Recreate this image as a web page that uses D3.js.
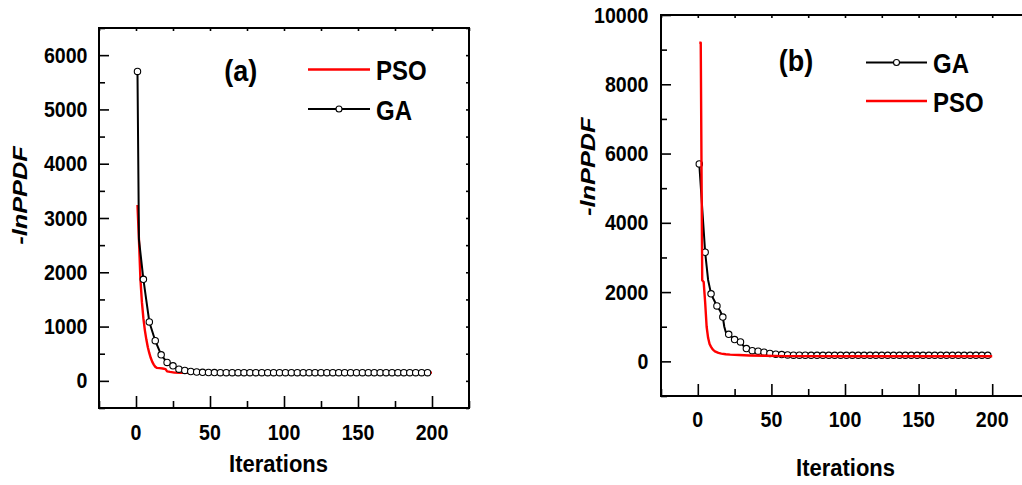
<!DOCTYPE html>
<html><head><meta charset="utf-8">
<script src="https://cdn.jsdelivr.net/npm/d3@7"></script>
<style>
body{margin:0;background:#fff}
text{font-family:"Liberation Sans",Arial,sans-serif;font-weight:bold;fill:#000}
</style>
</head><body>
<svg id="c" width="1022" height="485"></svg>
<script>
// ---------- DATA ----------
const xTicks = [0, 50, 100, 150, 200];
const xMinorTicks = [-25, 25, 75, 125, 175, 225];
const yTicksA = [0, 1000, 2000, 3000, 4000, 5000, 6000];
const yMinorA = [-500, 500, 1500, 2500, 3500, 4500, 5500, 6500];
const yTicksB = [0, 2000, 4000, 6000, 8000, 10000];
const yMinorB = [-1000, 1000, 3000, 5000, 7000, 9000];

// Panel (a)
const psoA_iter = [1, 2, 3, 4, 5, 6, 7, 8, 9, 10, 11, 12, 13, 14, 16, 18, 20, 21, 23, 26, 30, 40, 60, 100, 150, 200];
const psoA_val  = [3240, 2600, 1870, 1450, 1150, 930, 760, 620, 510, 420, 350, 300, 260, 240, 235, 228, 215, 175, 165, 152, 148, 148, 150, 150, 150, 152];
const gaA_iter = [1, 2, 5, 9, 13, 17, 21, 25, 29, 33, 37, 41, 45, 49, 53, 57, 61, 65, 69, 73, 77, 81, 85, 89, 93, 97, 101, 105, 109, 113, 117, 121, 125, 129, 133, 137, 141, 145, 149, 153, 157, 161, 165, 169, 173, 177, 181, 185, 189, 193, 197];
const gaA_val  = [5700, 2600, 1870, 1085, 740, 480, 340, 277, 216, 192, 172, 163, 157, 154, 152, 151, 150, 150, 150, 150, 150, 150, 150, 150, 150, 150, 150, 150, 150, 150, 150, 150, 150, 150, 150, 150, 150, 150, 150, 150, 150, 150, 150, 150, 150, 150, 150, 150, 150, 150, 150];

// Panel (b)
const gaB_iter = [1, 5, 6, 7, 8, 9, 11, 13, 15, 17, 18, 19, 21, 25, 29, 31, 33, 37, 41, 45, 49, 53, 57, 61, 65, 69, 73, 77, 81, 85, 89, 93, 97, 101, 105, 109, 113, 117, 121, 125, 129, 133, 137, 141, 145, 149, 153, 157, 161, 165, 169, 173, 177, 181, 185, 189, 193, 197];
const gaB_val  = [5700, 3150, 2750, 2350, 2150, 1950, 1770, 1600, 1470, 1280, 1000, 850, 780, 630, 560, 450, 370, 310, 295, 265, 230, 205, 195, 185, 180, 178, 176, 175, 175, 175, 175, 175, 175, 175, 175, 175, 175, 175, 175, 175, 175, 175, 175, 175, 175, 175, 175, 175, 175, 175, 175, 175, 175, 175, 175, 175, 175, 175];
const psoB_iter = [1, 2, 3, 4, 5, 6, 7, 8, 9, 10, 11, 12, 14, 16, 19, 22, 28, 35, 45, 60, 100, 200];
const psoB_val  = [9200, 9200, 2340, 2290, 1700, 1000, 680, 500, 420, 350, 310, 280, 245, 225, 205, 195, 182, 170, 160, 152, 148, 148];

const xTitle = "Iterations";
const yTitle = "-lnPPDF";

// ---------- DRAW ----------
const svg = d3.select("#c");

function txt(g, s, x, y, size, anchor, sy) {
  return g.append("text")
    .attr("transform", `translate(${x},${y}) scale(1,${sy})`)
    .attr("font-size", size).attr("text-anchor", anchor).text(s);
}

function panel(p) {
  const g = svg.append("g");
  const x = d3.scaleLinear().domain([-25, 225]).range(p.xr);
  const y = d3.scaleLinear().domain(p.yd).range(p.yr);

  const styleAx = s => { s.select(".domain").remove(); s.selectAll("text").remove();
    s.selectAll("line").attr("stroke", "#000").attr("stroke-width", 1.6); };

  g.append("g").attr("transform", `translate(0,${p.yr[0]})`)
    .call(d3.axisBottom(x).tickValues(xTicks).tickSizeInner(-12).tickSizeOuter(0)).call(styleAx);
  g.append("g").attr("transform", `translate(0,${p.yr[0]})`)
    .call(d3.axisBottom(x).tickValues(xMinorTicks).tickSizeInner(-7).tickSizeOuter(0)).call(styleAx);
  g.append("g").attr("transform", `translate(0,${p.yr[1]})`)
    .call(d3.axisTop(x).tickValues(xTicks.concat(xMinorTicks)).tickSizeInner(-3).tickSizeOuter(0)).call(styleAx);
  g.append("g").attr("transform", `translate(${p.xr[0]},0)`)
    .call(d3.axisLeft(y).tickValues(p.yMajor).tickSizeInner(-10).tickSizeOuter(0)).call(styleAx);
  g.append("g").attr("transform", `translate(${p.xr[0]},0)`)
    .call(d3.axisLeft(y).tickValues(p.yMinor).tickSizeInner(-6).tickSizeOuter(0)).call(styleAx);
  g.append("g").attr("transform", `translate(${p.xr[1]},0)`)
    .call(d3.axisRight(y).tickValues(p.yMajor.concat(p.yMinor)).tickSizeInner(-3).tickSizeOuter(0)).call(styleAx);

  g.append("rect").attr("x", p.xr[0]).attr("y", p.yr[1])
    .attr("width", p.xr[1] - p.xr[0]).attr("height", p.yr[0] - p.yr[1])
    .attr("fill", "none").attr("stroke", "#000").attr("stroke-width", 2);

  // tick labels
  p.yMajor.forEach(v => txt(g, String(v), p.yLabR, y(v) + 7.5, 19.6, "end", 1.08));
  xTicks.forEach(v => txt(g, String(v), x(v), p.xLabBase, 19.6, "middle", 1.08));

  // titles
  txt(g, xTitle, p.xTitle[0], p.xTitle[1], 22, "middle", 1.08);
  g.append("text").attr("transform", `translate(${p.yTitle[0]},${p.yTitle[1]}) rotate(-90) scale(1.3,1)`)
    .attr("font-size", 19.5).attr("font-style", "italic").attr("text-anchor", "middle").text(yTitle);
  txt(g, p.tag, p.tagPos[0], p.tagPos[1], 27, "middle", 1.1);

  const line = d3.line().x(d => x(d[0])).y(d => y(d[1]));
  const pso = psoData => g.append("path").datum(psoData).attr("d", line)
      .attr("fill", "none").attr("stroke", "#ff0000").attr("stroke-width", 2.4).attr("stroke-linejoin", "round");
  const ga = gaData => {
    g.append("path").datum(gaData).attr("d", line)
      .attr("fill", "none").attr("stroke", "#000").attr("stroke-width", 2).attr("stroke-linejoin", "round");
    g.selectAll(null).data(gaData.filter(d => (d[0] - 1) % 4 === 0)).join("circle")
      .attr("cx", d => x(d[0])).attr("cy", d => y(d[1])).attr("r", 3.2)
      .attr("fill", "#fff").attr("stroke", "#000").attr("stroke-width", 1.1);
  };
  const psoData = p.psoI.map((v, i) => [v, p.psoV[i]]);
  const gaData = p.gaI.map((v, i) => [v, p.gaV[i]]);
  if (p.psoOnTop) { ga(gaData); pso(psoData); } else { pso(psoData); ga(gaData); }

  // legend
  p.legend.forEach(L => {
    if (L.name === "PSO") {
      g.append("line").attr("x1", L.x1).attr("x2", L.x2).attr("y1", L.y).attr("y2", L.y)
        .attr("stroke", "#ff0000").attr("stroke-width", 2.4);
    } else {
      g.append("line").attr("x1", L.x1).attr("x2", L.x2).attr("y1", L.y).attr("y2", L.y)
        .attr("stroke", "#000").attr("stroke-width", 2);
      g.append("circle").attr("cx", (L.x1 + L.x2) / 2).attr("cy", L.y).attr("r", 3)
        .attr("fill", "#fff").attr("stroke", "#000").attr("stroke-width", 1.1);
    }
    txt(g, L.name, L.tx, L.y + 10.5, 24, "start", 1.15);
  });
}

panel({
  xr: [99, 469], yd: [-500, 6500], yr: [408, 28],
  yMajor: yTicksA, yMinor: yMinorA, yLabR: 87.5, xLabBase: 439.5,
  xTitle: [278.5, 471.5], yTitle: [26.5, 195.5], tag: "(a)", tagPos: [240.7, 80.5],
  psoI: psoA_iter, psoV: psoA_val, gaI: gaA_iter, gaV: gaA_val, psoOnTop: false,
  legend: [{name: "PSO", x1: 308, x2: 370, y: 69.5, tx: 376},
           {name: "GA", x1: 308, x2: 370, y: 109, tx: 376}]
});
panel({
  xr: [661, 1029], yd: [-1000, 10000], yr: [396, 15],
  yMajor: yTicksB, yMinor: yMinorB, yLabR: 648.5, xLabBase: 426.5,
  xTitle: [845.5, 476], yTitle: [595, 166.7], tag: "(b)", tagPos: [796, 70.5],
  psoI: psoB_iter, psoV: psoB_val, gaI: gaB_iter, gaV: gaB_val, psoOnTop: true,
  legend: [{name: "GA", x1: 866, x2: 927, y: 62.5, tx: 933},
           {name: "PSO", x1: 866, x2: 927, y: 101, tx: 933}]
});
</script>
</body></html>
